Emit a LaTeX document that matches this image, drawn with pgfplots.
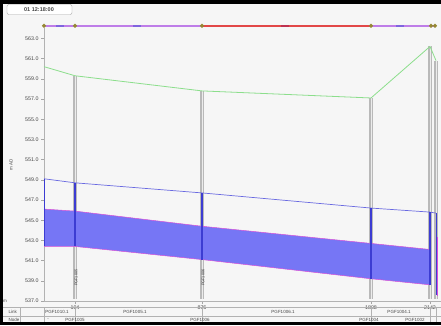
\documentclass[border=0pt]{standalone}
\usepackage{fontspec}
\setmainfont{Liberation Sans}
\usepackage{pgfplots}
\pgfplotsset{compat=1.18}
\definecolor{bgc}{RGB}{246,246,246}
\definecolor{grn}{RGB}{140,222,140}
\definecolor{hgl}{RGB}{105,105,225}
\definecolor{band}{RGB}{118,118,245}
\definecolor{mag}{RGB}{215,80,215}
\definecolor{nodeb}{RGB}{60,60,210}
\definecolor{mh}{RGB}{185,185,185}
\definecolor{mhin}{RGB}{236,236,236}
\definecolor{lnk}{RGB}{190,125,232}
\definecolor{lnkr}{RGB}{226,72,72}
\definecolor{arr}{RGB}{128,100,222}
\definecolor{arrr}{RGB}{190,50,80}
\definecolor{dot}{RGB}{150,135,50}
\definecolor{txt}{RGB}{70,70,70}
\begin{document}
\begin{tikzpicture}[x=1pt,y=1pt]
\useasboundingbox (0,0) rectangle (441,-325);
\fill[bgc] (0,0) rectangle (441,-325);
% frame
\fill[black] (0,0) rectangle (441,-3.5);
\fill[black] (0,0) rectangle (3,-325);
\fill[black] (0,-322) rectangle (441,-325);
% header box
\draw[gray!70, fill=white, rounded corners=2pt] (7,-4.5) rectangle (72,-14.5);
\node[font=\fontsize{5.5}{6}\selectfont\bfseries, text=txt] at (39,-9.5) {01 12:18:00};
\begin{axis}[
  at={(44,-298)}, anchor=south west,
  scale only axis, width=397pt, height=272.7pt,
  xmin=0, xmax=397, ymin=537, ymax=564,
  clip=false,
  axis x line*=bottom, axis y line*=left,
  axis line style={-, draw=gray!60, line width=0.8pt},
  xtick={31,158,327,386}, xticklabels={104,876,1808,2142},
  ytick={537,539,...,563},
  tick style={draw=gray!70, line width=0.4pt},
  major tick length=3pt, tick align=outside,
  /pgf/number format/assume math mode=true,
  yticklabel={\pgfmathprintnumber[fixed,precision=1,zerofill]{\tick}},
  ticklabel style={font=\fontsize{5.3}{6}\selectfont, text=txt},
  xticklabel style={yshift=1.5pt},
  yticklabel style={xshift=1pt},
]
% manholes (gray)
\addplot[mh, line width=3.2pt] coordinates {(31,537.2)(31,559.3)};
\addplot[mh, line width=3.2pt] coordinates {(158,537.2)(158,557.8)};
\addplot[mh, line width=3.2pt] coordinates {(327,537.2)(327,557.1)};
\addplot[mh, line width=3.2pt] coordinates {(386,537.2)(386,562.2)};
\addplot[mh, line width=3.2pt] coordinates {(392,537.2)(392,560.8)};
\addplot[mhin, line width=0.9pt] coordinates {(31,537.2)(31,559.3)};
\addplot[mhin, line width=0.9pt] coordinates {(158,537.2)(158,557.8)};
\addplot[mhin, line width=0.9pt] coordinates {(327,537.2)(327,557.1)};
\addplot[mhin, line width=0.9pt] coordinates {(386,537.2)(386,562.2)};
\addplot[mhin, line width=0.9pt] coordinates {(392,537.2)(392,560.8)};
% ground level
\addplot[grn, line width=0.8pt] coordinates {(0,560.2)(31,559.3)(158,557.8)(327,557.1)(386,562.2)(392,560.8)};
% pipe band (water)
\addplot[fill=band, draw=none] coordinates {(0,546.1)(31,545.9)(158,544.4)(327,542.7)(386,542.1)(386,538.6)(327,539.2)(158,541.1)(31,542.4)(0,542.4)} -- cycle;
\addplot[mag, line width=0.5pt] coordinates {(0,546.1)(31,545.9)(158,544.4)(327,542.7)(386,542.1)};
\addplot[mag, line width=0.5pt] coordinates {(0,542.4)(31,542.4)(158,541.1)(327,539.2)(386,538.6)};
% hydraulic grade line
\addplot[hgl, line width=0.7pt] coordinates {(0,549.1)(31,548.7)(158,547.7)(327,546.2)(386,545.8)(392,545.7)};
% node verticals
\addplot[nodeb, line width=1.6pt] coordinates {(0.5,549.1)(0.5,542.4)};
\addplot[nodeb, line width=1.6pt] coordinates {(31,548.7)(31,542.4)};
\addplot[nodeb, line width=1.6pt] coordinates {(158,547.7)(158,541.1)};
\addplot[nodeb, line width=1.6pt] coordinates {(327,546.2)(327,539.2)};
\addplot[nodeb, line width=1.6pt] coordinates {(386,545.8)(386,538.6)};
\addplot[nodeb, line width=0.8pt] coordinates {(392,545.7)(392,537.6)};
\addplot[mag, line width=1pt] coordinates {(393,543.3)(393,537.5)};
% top link bar
\addplot[lnk, line width=1.5pt] coordinates {(0,564.25)(158,564.25)};
\addplot[lnkr, line width=1.5pt] coordinates {(158,564.25)(327,564.25)};
\addplot[lnk, line width=1.5pt] coordinates {(327,564.25)(392,564.25)};
\addplot[arr, line width=2.4pt] coordinates {(12,564.25)(20,564.25)};
\addplot[arr, line width=2.4pt] coordinates {(89,564.25)(97,564.25)};
\addplot[arrr, line width=2.4pt] coordinates {(237,564.25)(245,564.25)};
\addplot[arr, line width=2.4pt] coordinates {(352,564.25)(360,564.25)};
\addplot[only marks, mark=*, mark size=1.9pt, dot] coordinates {(0,564.25)(31,564.25)(158,564.25)(327,564.25)(387,564.25)(391,564.25)};
% labels along manholes
\node[rotate=90, font=\fontsize{3.8}{4}\selectfont, text=black!80] at (axis cs:32,539.3) {PGF1005};
\node[rotate=90, font=\fontsize{3.8}{4}\selectfont, text=black!80] at (axis cs:159,539.3) {PGF1006};
\end{axis}
% y axis title
\node[rotate=90, font=\fontsize{4.5}{5}\selectfont, text=txt] at (11,-165) {m AD};
% long section table
\draw[gray!60, line width=0.4pt] (3,-307) -- (441,-307);
\draw[gray!60, line width=0.4pt] (3,-316) -- (441,-316);
\foreach \xx in {44,75,202,371,430,436} {\draw[gray!60, line width=0.4pt] (\xx,-307) -- (\xx,-322);}
\draw[gray!60, line width=0.4pt] (20,-307) -- (20,-322);
\node[font=\fontsize{4.5}{5}\selectfont, text=txt] at (5,-301) {m};
\node[font=\fontsize{4.5}{5}\selectfont, text=txt, anchor=west] at (5,-311.5) {Link};
\node[font=\fontsize{4.5}{5}\selectfont, text=txt, anchor=west] at (5,-319.5) {Node};
\node[font=\fontsize{4.5}{5}\selectfont, text=txt] at (57,-311.5) {PGF1010.1};
\node[font=\fontsize{4.5}{5}\selectfont, text=txt] at (135,-311.5) {PGF1005.1};
\node[font=\fontsize{4.5}{5}\selectfont, text=txt] at (283,-311.5) {PGF1006.1};
\node[font=\fontsize{4.5}{5}\selectfont, text=txt] at (399,-311.5) {PGF1004.1};
\node[font=\fontsize{4.5}{5}\selectfont, text=txt] at (48,-319.5) {-};
\node[font=\fontsize{4.5}{5}\selectfont, text=txt] at (75,-319.5) {PGF1005};
\node[font=\fontsize{4.5}{5}\selectfont, text=txt] at (200,-319.5) {PGF1006};
\node[font=\fontsize{4.5}{5}\selectfont, text=txt] at (369,-319.5) {PGF1004};
\node[font=\fontsize{4.5}{5}\selectfont, text=txt] at (415,-319.5) {PGF1002};
\end{tikzpicture}
\end{document}
